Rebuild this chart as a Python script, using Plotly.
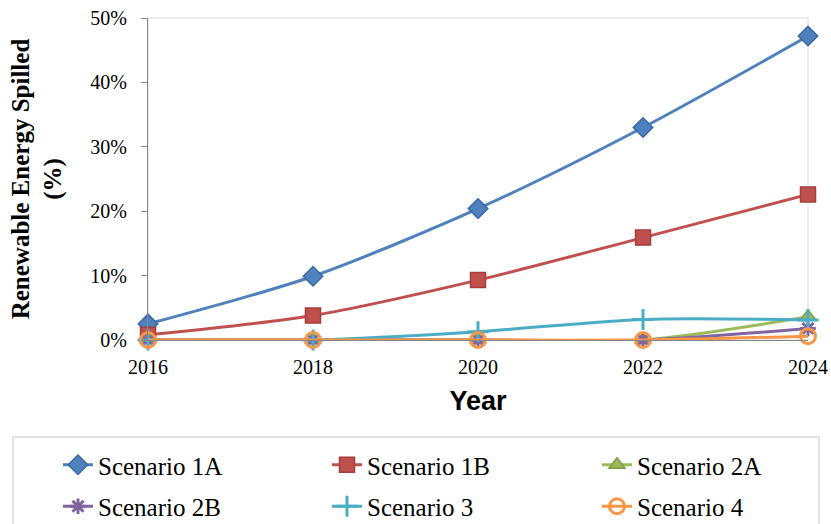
import plotly.graph_objects as go

years = [2016, 2018, 2020, 2022, 2024]
tick_labels = ["2016", "2018", "2020", "2022", "2024"]

scenario_names = ["Scenario 1A", "Scenario 1B", "Scenario 2A",
                  "Scenario 2B", "Scenario 3", "Scenario 4"]

spill_1a = [0.025, 0.099, 0.204, 0.330, 0.472]
spill_1b = [0.008, 0.038, 0.093, 0.159, 0.226]
spill_2a = [0.0, 0.0, 0.0, 0.0, 0.036]
spill_2b = [0.0, 0.0, 0.0, 0.0, 0.018]
spill_3 = [0.0, 0.0, 0.013, 0.032, 0.031]
spill_4 = [0.0, 0.0, 0.0, 0.0, 0.006]

series = [spill_1a, spill_1b, spill_2a, spill_2b, spill_3, spill_4]
colors = ["#4F81BD", "#C0504D", "#9BBB59", "#8064A2", "#4BACC6", "#F79646"]
outlines = ["#3A6AA6", "#A33E3B", "#7E9C45", "#8064A2", "#4BACC6", "#F79646"]
symbols = ["diamond", "square", "triangle-up", "asterisk-open",
           "cross-thin-open", "circle-open"]
sizes = [15, 15, 14, 13, 15, 15]
# legend column for each series (three columns, two rows)
legend_ids = ["legend", "legend2", "legend3", "legend", "legend2", "legend3"]

serif = "Liberation Serif, Times New Roman, serif"

# plot-area geometry in pixels, used to place the legend blocks
PLOT_L, PLOT_R, PLOT_T, PLOT_B = 148, 808, 18, 340
PLOT_W, PLOT_H = PLOT_R - PLOT_L, PLOT_B - PLOT_T


def px_to_paper_x(px):
    return (px - PLOT_L) / PLOT_W


def px_to_paper_y(py):
    return (PLOT_B - py) / PLOT_H


fig = go.Figure()
for name, vals, col, oc, sym, sz, lg in zip(scenario_names, series, colors,
                                             outlines, symbols, sizes, legend_ids):
    open_sym = sym.endswith("open")
    fig.add_trace(go.Scatter(
        x=years, y=vals, name=name, mode="lines+markers",
        line=dict(color=col, width=3, shape="spline", smoothing=0.8),
        marker=dict(symbol=sym, size=sz, color=col,
                    line=dict(color=oc, width=3 if open_sym else 1.5)),
        cliponaxis=False, legend=lg, legendgroup=name,
    ))

# light frame round the plot area
fig.add_shape(type="rect", xref="paper", yref="paper", x0=0, y0=0, x1=1, y1=1,
              line=dict(color="#D9D9D9", width=1), layer="below")
# frame round the legend block
fig.add_shape(type="rect", xref="paper", yref="paper",
              x0=px_to_paper_x(13), x1=px_to_paper_x(819),
              y0=px_to_paper_y(540), y1=px_to_paper_y(437),
              line=dict(color="#D9D9D9", width=1.5))


def legend_col(left_px):
    return dict(
        orientation="v",
        x=px_to_paper_x(left_px), xanchor="left",
        y=px_to_paper_y(442), yanchor="top",
        font=dict(family=serif, size=25, color="black"),
        itemwidth=30, tracegroupgap=6,
        bgcolor="rgba(0,0,0,0)", borderwidth=0,
    )


fig.update_layout(
    width=831, height=524,
    margin=dict(l=PLOT_L, r=831 - PLOT_R, t=PLOT_T, b=524 - PLOT_B,
                autoexpand=False),
    paper_bgcolor="white", plot_bgcolor="white",
    showlegend=True,
    legend=legend_col(58),
    legend2=legend_col(327),
    legend3=legend_col(597),
    xaxis=dict(
        range=[2016, 2024], tickvals=years, ticktext=tick_labels,
        showline=True, linecolor="#868686", linewidth=1,
        ticks="", showgrid=False, zeroline=False, ticklabelstandoff=9,
        tickfont=dict(family=serif, size=20, color="black"),
        title=dict(text="<b>Year</b>", standoff=14,
                   font=dict(family="Liberation Sans, Arial, sans-serif",
                             size=27, color="black")),
    ),
    yaxis=dict(
        range=[0, 0.5], dtick=0.1, tickformat=".0%",
        showline=True, linecolor="#868686", linewidth=1,
        ticks="outside", ticklen=6, tickcolor="#868686",
        showgrid=False, zeroline=False, ticklabelstandoff=10,
        tickfont=dict(family=serif, size=20, color="black"),
        title=dict(text="<b>Renewable Energy Spilled<br>(%)</b>", standoff=21,
                   font=dict(family=serif, size=25, color="black")),
    ),
)

fig.write_html("out.html")
